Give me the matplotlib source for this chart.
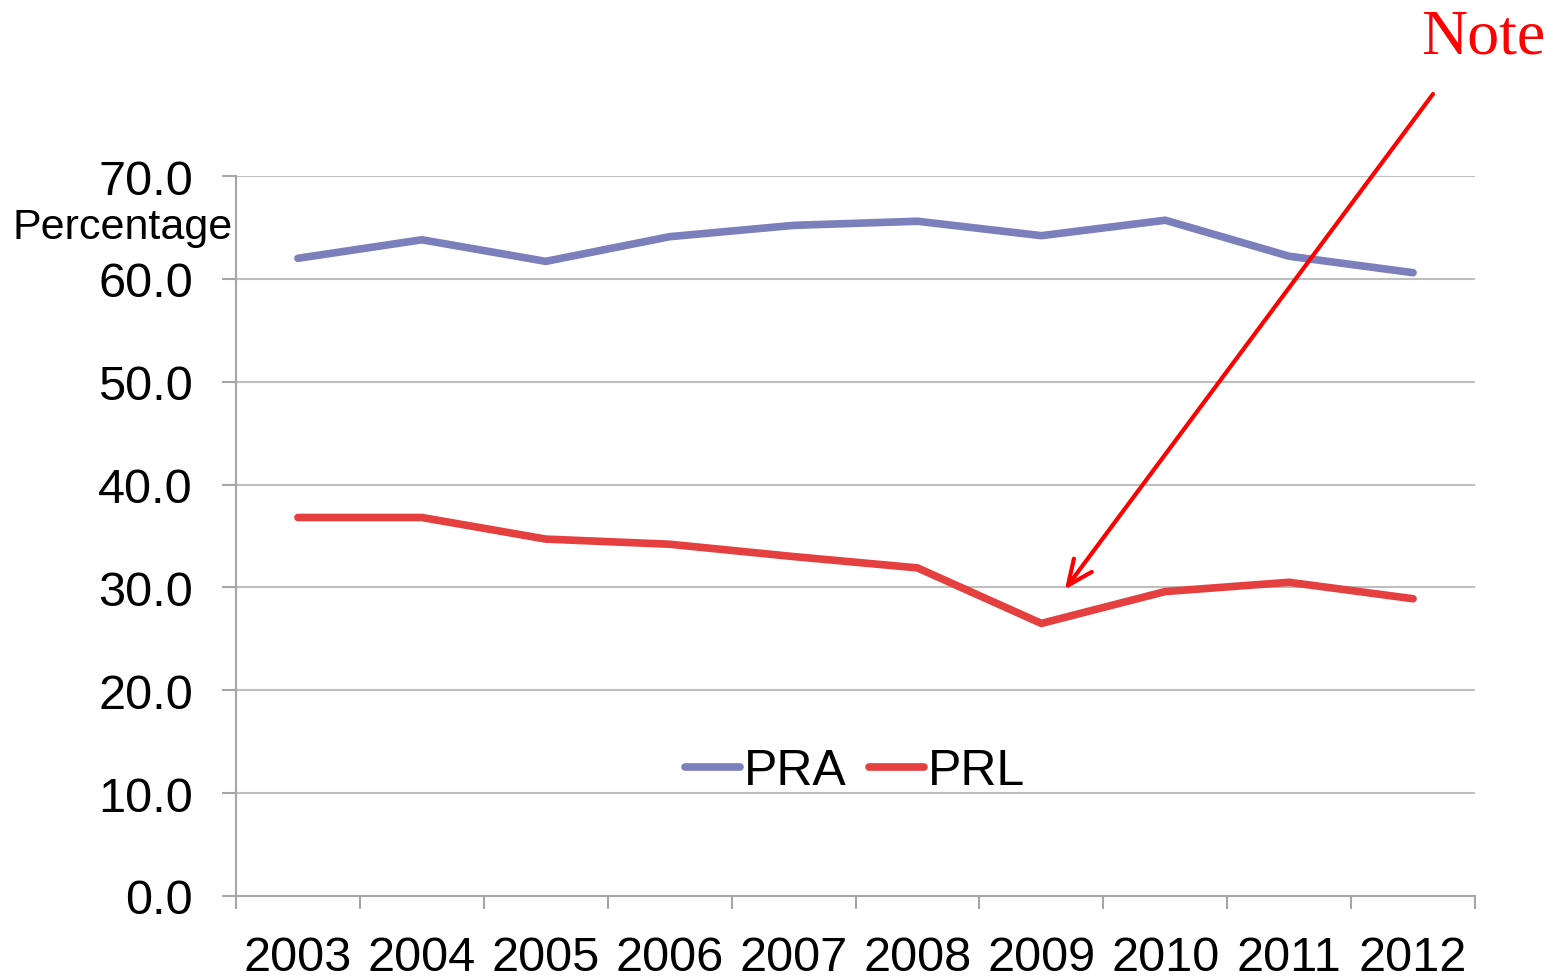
import matplotlib
matplotlib.use('Agg')
import matplotlib.pyplot as plt
import numpy as np

# datos del grafico
years = ['2003', '2004', '2005', '2006', '2007', '2008', '2009', '2010', '2011', '2012']
pra = [62.0, 63.8, 61.7, 64.1, 65.2, 65.6, 64.2, 65.7, 62.2, 60.6]
prl = [36.8, 36.8, 34.7, 34.2, 33.0, 31.9, 26.5, 29.6, 30.5, 28.9]
y_ticks = [0, 10, 20, 30, 40, 50, 60, 70]

plt.rcParams['font.family'] = ['Liberation Sans', 'DejaVu Sans']

fig = plt.figure(figsize=(15.51, 9.79), dpi=100)
ax = fig.add_axes([236/1551, 1 - 897/979, (1475 - 236)/1551, (897 - 177)/979])

x = np.arange(len(years))
ax.plot(x, pra, color='#7b7fbc', lw=5.5, solid_capstyle='round', solid_joinstyle='round', label='PRA', zorder=3)
ax.plot(x, prl, color='#e5403f', lw=5.5, solid_capstyle='round', solid_joinstyle='round', label='PRL', zorder=3)

ax.set_xlim(-0.5, len(years) - 0.5)
ax.set_ylim(0, 70)

# rejilla horizontal
ax.set_yticks(y_ticks)
ax.set_yticklabels(['%.1f' % v for v in y_ticks], fontsize=35)
ax.yaxis.grid(True, color='#bfbfbf', lw=1.5)
ax.set_axisbelow(True)
ax.tick_params(axis='y', length=10, width=1.5, color='#a6a6a6', pad=21)

# ticks del eje x entre categorias, etiquetas en el centro
ax.set_xticks(np.arange(-0.5, len(years), 1.0))
ax.set_xticklabels([])
ax.set_xticks(x, minor=True)
ax.set_xticklabels(years, minor=True, fontsize=35)
ax.tick_params(axis='x', which='major', length=9.5, width=1.5, color='#a6a6a6')
ax.tick_params(axis='x', which='minor', length=0, pad=28)

for s in ['top', 'right']:
    ax.spines[s].set_visible(False)
ax.spines['left'].set_color('#a6a6a6')
ax.spines['bottom'].set_color('#a6a6a6')
ax.spines['left'].set_linewidth(1.5)
ax.spines['bottom'].set_linewidth(1.5)

fig.text(13/1551, 1 - 228/979, 'Percentage', fontsize=31, ha='left', va='center')

leg = ax.legend(loc='center', bbox_to_anchor=(0.4996, 0.1736), ncol=2, frameon=False,
                fontsize=36, handlelength=1.1, handletextpad=0.08, columnspacing=0.45)

# nota en rojo con flecha
fig.text(1545/1551, 1 - 38/979, 'Note', color='red', fontsize=46, ha='right', va='center',
         family=['Liberation Serif', 'DejaVu Serif'])
ax.annotate('', xy=(6.19, 29.8), xytext=(1433, 979 - 95), xycoords='data',
            textcoords='figure pixels', annotation_clip=False,
            arrowprops=dict(arrowstyle='->,head_length=1.8,head_width=0.8', color='red', lw=3,
                            shrinkA=0, shrinkB=0))

fig.savefig('out.png', dpi=100)
